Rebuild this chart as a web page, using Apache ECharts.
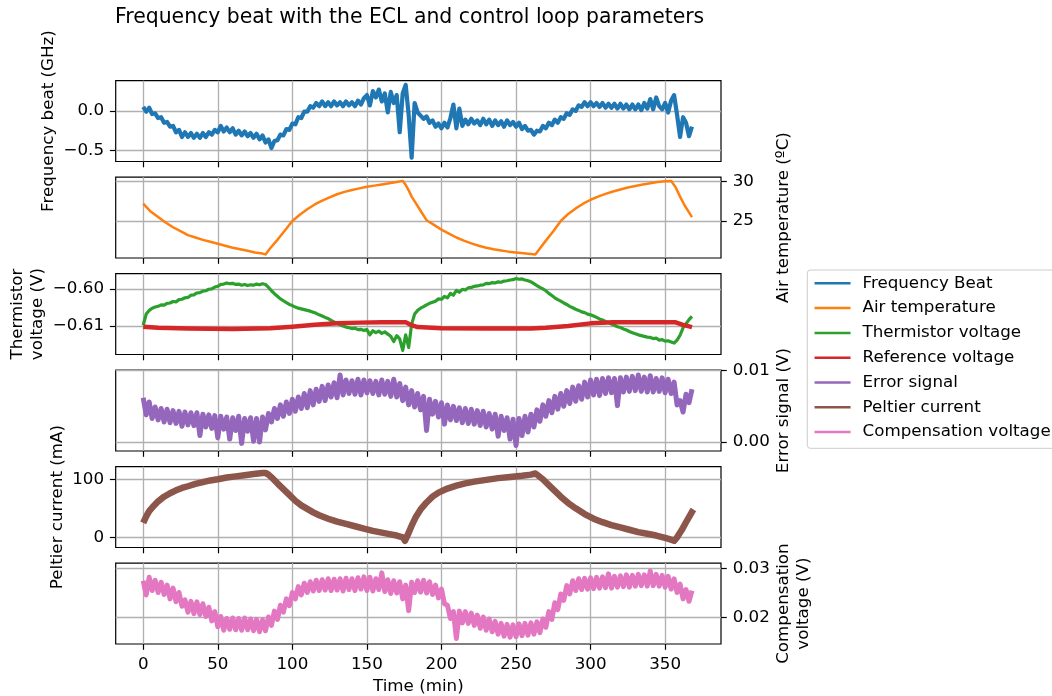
<!DOCTYPE html>
<html><head><meta charset="utf-8">
<script src="https://cdn.jsdelivr.net/npm/echarts@6/dist/echarts.min.js"></script>
<style>html,body{margin:0;padding:0;background:#fff}#c{width:1052px;height:696px}</style>
</head><body><div id="c"></div>
<script>
// ---- data ----
const sampleMinutes = 2; // sampling interval of the dense recordings (min)
const frequencyBeat = [
0.05,-0.01,0.04,-0.04,-0.03,-0.09,-0.08,-0.15,-0.14,-0.2,
-0.19,-0.27,-0.24,-0.33,-0.27,-0.33,-0.28,-0.34,-0.29,-0.34,
-0.28,-0.33,-0.27,-0.3,-0.24,-0.27,-0.19,-0.26,-0.21,-0.27,
-0.22,-0.3,-0.25,-0.31,-0.26,-0.32,-0.28,-0.34,-0.29,-0.36,
-0.31,-0.4,-0.36,-0.47,-0.38,-0.37,-0.3,-0.31,-0.23,-0.24,
-0.16,-0.17,-0.08,-0.09,-0.01,-0.01,0.06,0.04,0.1,0.06,
0.12,0.06,0.11,0.06,0.12,0.07,0.11,0.06,0.12,0.07,
0.11,0.06,0.13,0.08,0.16,0.2,0.07,0.25,0.17,0.27,
0.12,0.22,-0.02,0.24,0.1,0.2,-0.27,0.22,0.33,-0.05,
-0.59,0.1,-0.02,-0.06,-0.1,-0.07,-0.15,-0.12,-0.2,-0.16,
-0.22,-0.15,-0.21,-0.09,0.08,-0.22,0.03,-0.19,-0.11,-0.17,
-0.1,-0.16,-0.12,-0.18,-0.1,-0.17,-0.11,-0.19,-0.12,-0.18,
-0.13,-0.2,-0.12,-0.18,-0.14,-0.2,-0.15,-0.23,-0.19,-0.25,
-0.24,-0.3,-0.25,-0.26,-0.19,-0.22,-0.15,-0.18,-0.11,-0.15,
-0.08,-0.1,-0.03,-0.05,0.02,0.0,0.07,0.05,0.11,0.06,
0.11,0.06,0.1,0.05,0.1,0.04,0.09,0.04,0.09,0.03,
0.09,0.03,0.08,0.02,0.08,0.02,0.08,0.01,0.1,0.03,
0.15,0.02,0.17,0.06,0.02,0.1,-0.02,0.13,0.2,-0.05,
-0.33,-0.08,-0.15,-0.32,-0.2];
const airTemperature = [
[0,27.2],[5,26.2],[10,25.5],[15,24.8],[20,24.2],[25,23.7],[30,23.2],[35,22.9],[40,22.6],[45,22.35],
[50,22.1],[55,21.85],[60,21.6],[65,21.4],[70,21.2],[75,21.0],[80,20.85],[82,20.75],[85,21.5],[90,22.6],
[95,23.8],[100,25.0],[105,25.8],[110,26.5],[115,27.1],[120,27.6],[125,28.0],[130,28.4],[135,28.7],[140,28.95],
[145,29.15],[150,29.35],[155,29.5],[160,29.65],[165,29.8],[170,29.95],[174,30.1],[176,29.6],[178,28.9],[180,28.1],
[183,27.2],[186,26.3],[190,25.1],[195,24.5],[200,23.9],[205,23.4],[210,22.9],[215,22.5],[220,22.15],[225,21.85],
[230,21.6],[235,21.4],[240,21.25],[245,21.1],[250,21.0],[255,20.9],[260,20.8],[263,20.75],[266,21.5],[270,22.5],
[275,23.7],[280,25.0],[285,25.9],[290,26.6],[295,27.2],[300,27.7],[305,28.1],[310,28.45],[315,28.75],[320,29.0],
[325,29.25],[330,29.45],[335,29.65],[340,29.8],[345,29.95],[350,30.05],[354,30.1],[357,29.3],[360,28.1],[363,27.0],
[366,26.1],[368,25.5]];
const thermistorVoltage = [
-0.6098,-0.6068,-0.6058,-0.6052,-0.6049,-0.6047,-0.6043,-0.6044,-0.6039,-0.6038,
-0.6034,-0.6035,-0.6029,-0.6028,-0.6024,-0.6023,-0.6017,-0.6016,-0.6011,-0.601,
-0.6006,-0.6005,-0.6001,-0.6,-0.5995,-0.5993,-0.5988,-0.5987,-0.5984,-0.5986,
-0.5985,-0.5988,-0.5987,-0.599,-0.5988,-0.5991,-0.5989,-0.599,-0.5987,-0.5989,
-0.5986,-0.5988,-0.5996,-0.6005,-0.6013,-0.602,-0.6027,-0.6032,-0.6037,-0.6042,
-0.6045,-0.6049,-0.6052,-0.6054,-0.6056,-0.6058,-0.606,-0.6063,-0.6066,-0.607,
-0.6073,-0.6077,-0.608,-0.6085,-0.6089,-0.6093,-0.6097,-0.61,-0.6103,-0.6105,
-0.6107,-0.6106,-0.611,-0.6109,-0.6112,-0.611,-0.6124,-0.6113,-0.6118,-0.6114,
-0.612,-0.6116,-0.6122,-0.6128,-0.6142,-0.6126,-0.6135,-0.6166,-0.6124,-0.6158,
-0.6095,-0.6068,-0.6058,-0.6052,-0.6048,-0.6043,-0.6039,-0.6036,-0.6033,-0.6027,
-0.6028,-0.602,-0.6024,-0.6012,-0.6017,-0.6004,-0.6009,-0.6001,-0.6003,-0.5997,
-0.5996,-0.5993,-0.5992,-0.599,-0.5989,-0.5985,-0.5986,-0.5983,-0.5984,-0.5981,
-0.5982,-0.5979,-0.5978,-0.5976,-0.5975,-0.5972,-0.5974,-0.5973,-0.5976,-0.5978,
-0.5981,-0.5986,-0.5991,-0.5996,-0.6,-0.6005,-0.6012,-0.6018,-0.6024,-0.6029,
-0.6033,-0.6038,-0.6042,-0.6047,-0.6051,-0.6055,-0.6058,-0.6062,-0.6064,-0.6068,
-0.607,-0.6073,-0.6077,-0.6081,-0.6084,-0.6088,-0.6091,-0.6095,-0.6098,-0.6102,
-0.6104,-0.6108,-0.6111,-0.6115,-0.6118,-0.6121,-0.6124,-0.6126,-0.6128,-0.613,
-0.6131,-0.6134,-0.6133,-0.6138,-0.6137,-0.6141,-0.614,-0.6143,-0.6146,-0.6138,
-0.6125,-0.6105,-0.6094,-0.6083,-0.6074];
const referenceVoltage = [
[0,-0.6102],[10,-0.6105],[30,-0.6107],[60,-0.6108],[85,-0.6106],[100,-0.6102],[115,-0.6097],[130,-0.6093],
[145,-0.6091],[160,-0.609],[176,-0.609],[180,-0.6098],[184,-0.6103],[200,-0.6106],[230,-0.6107],[260,-0.6107],
[270,-0.6105],[285,-0.61],[300,-0.6093],[315,-0.609],[340,-0.609],[357,-0.609],[362,-0.6097],[368,-0.6103]];
const errorSignal = [
0.0062,0.0038,0.0056,0.0033,0.0049,0.0031,0.0047,0.0028,0.0046,0.0027,
0.0044,0.0026,0.0043,0.0022,0.0042,0.0024,0.0041,0.0023,0.0041,0.0009,
0.0039,0.0021,0.0038,0.0019,0.0037,0.0006,0.0036,0.0018,0.0035,0.0004,
0.0034,0.0016,0.0036,-0.0002,0.0033,0.0015,0.0034,0.0001,0.0033,0.0,
0.0035,0.0017,0.004,0.0028,0.0047,0.0033,0.0052,0.0036,0.0056,0.004,
0.006,0.0043,0.0063,0.0047,0.0068,0.0048,0.0072,0.0052,0.0074,0.0057,
0.0078,0.0058,0.008,0.0063,0.0083,0.0062,0.0094,0.0066,0.0087,0.0068,
0.0086,0.0067,0.0088,0.0066,0.0087,0.0069,0.0086,0.0068,0.0085,0.0066,
0.0087,0.0067,0.0085,0.0064,0.0088,0.0063,0.0082,0.0058,0.0077,0.0052,
0.0072,0.0049,0.0068,0.0045,0.0064,0.0016,0.006,0.0039,0.0057,0.0035,
0.0055,0.0025,0.0052,0.0031,0.005,0.003,0.0048,0.0027,0.0047,0.0026,
0.0046,0.0025,0.0044,0.0023,0.0043,0.0021,0.004,0.0018,0.0039,0.0008,
0.0036,0.0016,0.0034,0.0004,0.0032,-0.0005,0.0033,0.0009,0.0036,0.0014,
0.0039,0.0021,0.0045,0.0029,0.0052,0.0036,0.0058,0.0041,0.0064,0.0046,
0.0068,0.005,0.0072,0.0054,0.0077,0.0057,0.0079,0.006,0.0084,0.0063,
0.0087,0.0066,0.0088,0.0065,0.0089,0.0068,0.009,0.0069,0.0089,0.0051,
0.009,0.007,0.0091,0.0071,0.0092,0.0072,0.0094,0.0071,0.0091,0.007,
0.0093,0.007,0.0089,0.0071,0.009,0.0069,0.0088,0.0068,0.0084,0.0052,
0.0058,0.0042,0.0067,0.0055,0.0074];
const peltierCurrent = [
[0,25],[2,36],[4,45],[7,54],[10,62],[14,70],[18,76],[22,81],[26,85],[30,88],[35,92],[40,95],[45,98],[50,100],
[56,103],[62,105],[68,107],[74,109],[80,111],[82,111],[84,108],[87,101],[90,93],[94,83],[98,73],[102,63],[106,55],
[110,49],[114,43],[118,38],[124,32],[130,27],[136,23],[142,19],[148,15],[154,11],[160,8],[166,5],[170,3],[174,0],
[175.5,-6],[177,2],[180,20],[183,36],[186,48],[190,60],[194,70],[198,77],[204,84],[210,89],[216,93],[222,96],
[230,99],[238,102],[246,104],[254,106],[260,108],[263,110],[265,106],[268,100],[272,90],[276,80],[280,70],[285,59],
[290,50],[296,40],[302,32],[308,26],[314,21],[320,17],[326,13],[332,9],[338,6],[344,3],[350,-1],[354,-4],[356,-6],
[358,0],[361,12],[364,26],[368,44],[369,48]];
const compensationVoltage = [
0.0275,0.0246,0.0282,0.0255,0.0276,0.0251,0.0272,0.0247,0.0266,0.0238,
0.026,0.0232,0.0251,0.0223,0.0236,0.0211,0.0233,0.0208,0.0232,0.0206,
0.0228,0.0202,0.0221,0.0193,0.0212,0.0181,0.0202,0.0174,0.0198,0.0176,
0.0199,0.0175,0.0198,0.0174,0.0199,0.0175,0.0197,0.0173,0.0196,0.0171,
0.0195,0.0173,0.0201,0.0184,0.0213,0.0196,0.0225,0.0211,0.0238,0.0224,
0.0251,0.0238,0.0263,0.0246,0.027,0.0251,0.0273,0.0254,0.0276,0.0255,
0.0277,0.0256,0.0279,0.0255,0.0278,0.0256,0.0279,0.0254,0.028,0.0257,
0.0279,0.0255,0.0281,0.0258,0.0283,0.0255,0.0282,0.0254,0.0279,0.0257,
0.0291,0.0253,0.0277,0.0249,0.0275,0.025,0.0273,0.0238,0.0266,0.0214,
0.0272,0.0251,0.0275,0.0252,0.0276,0.025,0.0273,0.0247,0.0266,0.024,
0.0258,0.0228,0.0225,0.0198,0.0212,0.0157,0.0213,0.0189,0.0212,0.0188,
0.0209,0.0184,0.0205,0.0178,0.0201,0.0174,0.0197,0.0171,0.0192,0.0166,
0.0188,0.0162,0.0186,0.016,0.0185,0.0161,0.0187,0.0163,0.0188,0.0164,
0.0189,0.0166,0.0191,0.0169,0.0197,0.018,0.0212,0.0196,0.023,0.0216,
0.0248,0.0235,0.0265,0.0248,0.0275,0.0255,0.0279,0.0257,0.028,0.0258,
0.0281,0.0259,0.0282,0.026,0.0283,0.0261,0.0289,0.026,0.0284,0.0262,
0.0285,0.0263,0.0287,0.0262,0.0286,0.0264,0.0288,0.0265,0.0287,0.0264,
0.0295,0.0265,0.0288,0.0264,0.0286,0.0262,0.0284,0.0258,0.0279,0.0251,
0.0268,0.0238,0.0257,0.0233,0.0255];

const seriesNames = ['Frequency Beat','Air temperature','Thermistor voltage','Reference voltage','Error signal','Peltier current','Compensation voltage'];
const xTicks = [0,50,100,150,200,250,300,350];
const yTicks = [[-0.5,0.0],[25,30],[-0.61,-0.60],[0.00,0.01],[0,100],[0.02,0.03]];
const yDecimals = [1,0,2,2,0,2];
const yNames = ['Frequency beat (GHz)','Air temperature (ºC)','Thermistor\nvoltage (V)','Error signal (V)','Peltier current (mA)','Compensation\nvoltage (V)'];
const titleText = 'Frequency beat with the ECL and control loop parameters';
const xName = 'Time (min)';

// ---- layout / style ----
const FONT = 'DejaVu Sans';
const colors = ['#1f77b4','#ff7f0e','#2ca02c','#d62728','#9467bd','#8c564b','#e377c2'];
const gridTops = [80.7,177.2,273.7,370.2,466.7,563.2];
const gridH = 80.8, gridL = 115.7, gridW = 605.3;
const yRanges = [[-0.64,0.382],[20.29,30.57],[-0.6177,-0.5959],[-0.00127,0.01007],[-17.6,121.7],[0.01459,0.03108]];
const yNameGaps = [57,53,68.3,52.5,48,53];
const dense = arr => arr.map((v,i)=>[i*sampleMinutes, v]);
const fmt = d => v => (v < -1e-12 ? '\u2212' : '') + Math.abs(v).toFixed(d);
const txt = {fontFamily: FONT, fontSize: 16.7, color: '#000'};
const gridLine = {show: true, lineStyle: {color: '#b0b0b0', width: 1.33}};

const grid = gridTops.map(t => ({left: gridL, width: gridW, top: t, height: gridH, show: true,
  borderColor: '#000', borderWidth: 1.2, backgroundColor: 'transparent', containLabel: false, outerBoundsMode: 'none'}));
const xAxis = gridTops.map((t,i) => ({
  type: 'value', gridIndex: i, min: -18.45, max: 387.45,
  axisLine: {show: false, onZero: false},
  axisTick: {show: true, customValues: xTicks, length: 5.8, lineStyle: {color: '#000', width: 1.2}},
  axisLabel: {show: i === 5, customValues: xTicks, margin: 11.7, ...txt},
  splitLine: gridLine,
  name: i === 5 ? xName : '', nameLocation: 'middle', nameGap: 33, nameMoveOverlap: false,
  nameTextStyle: {...txt, lineHeight: 20}
}));
const yAxis = gridTops.map((t,i) => ({
  type: 'value', gridIndex: i, position: i % 2 ? 'right' : 'left',
  min: yRanges[i][0], max: yRanges[i][1],
  axisLine: {show: false, onZero: false},
  axisTick: {show: true, customValues: yTicks[i], length: 5.8, lineStyle: {color: '#000', width: 1.2}},
  axisLabel: {show: true, customValues: yTicks[i], margin: 11.7, formatter: fmt(yDecimals[i]), ...txt},
  splitLine: gridLine,
  name: yNames[i], nameLocation: 'middle', nameGap: yNameGaps[i], nameMoveOverlap: false,
  nameTextStyle: {...txt, lineHeight: 20}
}));
const mk = (k, axis, data, width) => ({
  type: 'line', name: seriesNames[k], xAxisIndex: axis, yAxisIndex: axis, data,
  symbol: 'none', showSymbol: false, animation: false,
  lineStyle: {color: colors[k], width, join: 'round'}, itemStyle: {color: colors[k]}
});
const series = [
  mk(0, 0, dense(frequencyBeat), 4.2),
  mk(1, 1, airTemperature, 2.5),
  mk(2, 2, dense(thermistorVoltage), 3.2),
  mk(3, 2, referenceVoltage, 4.5),
  mk(4, 3, dense(errorSignal), 5),
  mk(5, 4, peltierCurrent, 6.5),
  mk(6, 5, dense(compensationVoltage), 5)
];

const chart = echarts.init(document.getElementById('c'), null, {renderer: 'canvas'});
chart.setOption({
  animation: false,
  backgroundColor: '#fff',
  title: {text: titleText, left: 115, top: 7.5, padding: 0,
    textStyle: {fontFamily: FONT, fontSize: 20.4, fontWeight: 'normal', color: '#000', lineHeight: 20}},
  graphic: [{type: 'rect', z: 0, silent: true,
    shape: {x: 807.3, y: 270, width: 280, height: 178.3, r: 3},
    style: {fill: 'rgba(255,255,255,0.8)', stroke: '#cccccc', lineWidth: 1}}],
  legend: {data: seriesNames, orient: 'vertical', left: 807.3, top: 270, padding: [3.3, 16, 6, 6],
    itemWidth: 36, itemHeight: 20, itemGap: 4.8, selectedMode: false, z: 10,
    textStyle: {...txt, lineHeight: 20, padding: [0,0,0,7]},
    lineStyle: {width: 2.5}, itemStyle: {opacity: 0, borderWidth: 0}},
  grid, xAxis, yAxis, series
});
</script></body></html>
